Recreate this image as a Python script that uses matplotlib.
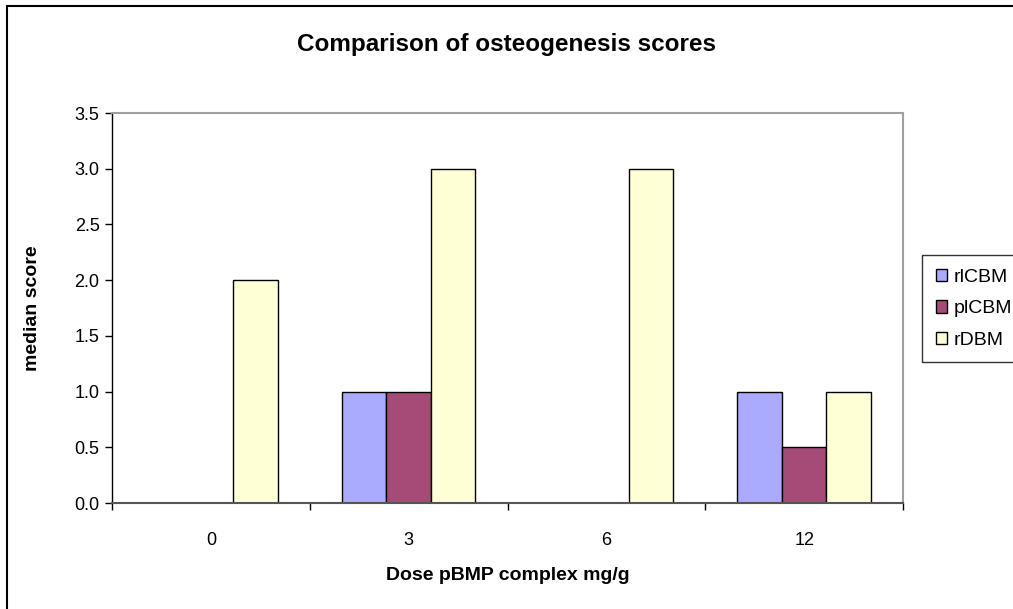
import matplotlib.pyplot as plt
import numpy as np
from matplotlib.patches import Rectangle

plt.rcParams['font.family'] = ['Liberation Sans', 'DejaVu Sans']

doses = ['0', '3', '6', '12']
rlcbm = [0, 1, 0, 1]
plcbm = [0, 1, 0, 0.5]
rdbm = [2, 3, 3, 1]
series_names = ['rlCBM', 'plCBM', 'rDBM']
colors = ['#AAAAFF', '#A64B78', '#FFFFD6']

fig = plt.figure(figsize=(10.13, 6.09), dpi=100)
ax = fig.add_axes([112 / 1013, 106 / 609, 791 / 1013, 390 / 609])

x = np.arange(len(doses))
w = 0.225
for i, (vals, name, col) in enumerate(zip([rlcbm, plcbm, rdbm], series_names, colors)):
    ax.bar(x + (i - 1) * w, vals, width=w, color=col, edgecolor='black',
           linewidth=1.0, label=name)

ax.set_xlim(-0.5, len(doses) - 0.5)
ax.set_ylim(0, 3.5)
yt = np.arange(0, 3.51, 0.5)
ax.set_yticks(yt)
ax.set_yticklabels(['%.1f' % v for v in yt], fontsize=13)
ax.tick_params(axis='y', direction='out', length=5, width=1, pad=4)

# labels sit at category centers, ticks at the boundaries
ax.set_xticks(np.arange(-0.5, len(doses), 1.0))
ax.set_xticklabels([])
ax.tick_params(axis='x', which='major', direction='out', length=5, width=1)
ax.set_xticks(x, minor=True)
ax.set_xticklabels(doses, minor=True, fontsize=13)
ax.tick_params(axis='x', which='minor', length=0, pad=21)

for s in ['top', 'right']:
    ax.spines[s].set_color('#A0A0A0')
    ax.spines[s].set_linewidth(1.5)
ax.spines['left'].set_color('black')
ax.spines['left'].set_linewidth(1.0)
ax.spines['bottom'].set_color('#555555')
ax.spines['bottom'].set_linewidth(1.5)

ax.set_ylabel('median score', fontsize=14, fontweight='bold', labelpad=24)
ax.set_xlabel('Dose pBMP complex mg/g', fontsize=14, fontweight='bold', labelpad=13)
fig.text(506 / 1013, 1 - 45 / 609, 'Comparison of osteogenesis scores',
         fontsize=17.5, fontweight='bold', ha='center', va='center')

leg = ax.legend(loc='upper left', bbox_to_anchor=(922 / 1013, 1 - 255 / 609),
                bbox_transform=fig.transFigure, fontsize=14, frameon=True,
                fancybox=False, edgecolor='black', handlelength=0.6,
                handleheight=0.6, handletextpad=0.35, borderpad=0.7,
                labelspacing=0.75, borderaxespad=0)
leg.get_frame().set_linewidth(1.0)

fig.patches.append(Rectangle((7 / 1013, -0.1), 1.1, 1.1 - 6 / 609, transform=fig.transFigure,
                             fill=False, edgecolor='black', linewidth=1.5))

fig.savefig('out.png', dpi=100)
